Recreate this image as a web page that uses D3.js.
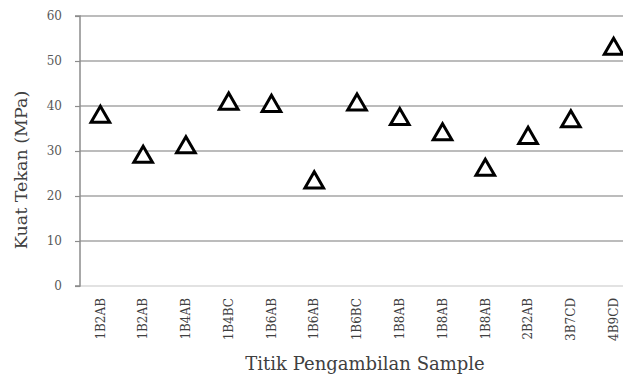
<!DOCTYPE html>
<html><head><meta charset="utf-8">
<script src="https://cdn.jsdelivr.net/npm/d3@7"></script>
<style>body{margin:0;background:#fff}svg{display:block}</style>
</head><body>
<script>
const categories = ["1B2AB","1B2AB","1B4AB","1B4BC","1B6AB","1B6AB","1B6BC","1B8AB","1B8AB","1B8AB","2B2AB","3B7CD","4B9CD"];
const values = [37.8, 28.9, 31.0, 40.7, 40.2, 23.2, 40.5, 37.3, 33.9, 26.0, 33.1, 36.8, 52.9];
const yTicks = [0, 10, 20, 30, 40, 50, 60];

const W = 623, H = 378;
const FONT = "DejaVu Serif";
const svg = d3.select("body").append("svg").attr("width", W).attr("height", H);
const mLeft = 80, mTop = 16, mBottom = 286, mRight = 635;

const x = d3.scaleBand().domain(d3.range(categories.length)).range([mLeft - 1, mRight]);
const y = d3.scaleLinear().domain([0, 60]).range([mBottom, mTop]);

// gridlines
svg.append("g").selectAll("line").data(yTicks.filter(d => d > 0)).join("line")
  .attr("x1", mLeft).attr("x2", W).attr("y1", d => y(d)).attr("y2", d => y(d))
  .attr("stroke", "#a6a6a6").attr("stroke-width", 1.5);
// bottom baseline
svg.append("line").attr("x1", mLeft).attr("x2", W).attr("y1", y(0)).attr("y2", y(0))
  .attr("stroke", "#d9d9d9").attr("stroke-width", 1.5);

// y axis
const yAxis = d3.axisLeft(y).tickValues(yTicks).tickSize(5).tickPadding(13);
const gy = svg.append("g").attr("transform", `translate(${mLeft},0)`).call(yAxis)
  .attr("font-family", FONT).attr("font-size", 12);
gy.select(".domain").attr("stroke", "#8c8c8c").attr("stroke-width", 1.5).attr("d", `M-5,${mTop}H0V${mBottom}H-5`);
gy.selectAll(".tick line").attr("stroke", "#8c8c8c").attr("stroke-width", 1.2);
gy.selectAll("text").attr("fill", "#595959");

// x labels
const xAxis = d3.axisBottom(x).tickFormat(i => categories[i]).tickSize(0).tickPadding(0);
const gx = svg.append("g").attr("transform", `translate(0,${mBottom})`).call(xAxis)
  .attr("font-family", FONT).attr("font-size", 12);
gx.select(".domain").remove();
gx.selectAll("text").attr("fill", "#404040")
  .attr("transform", "rotate(-90)").attr("text-anchor", "end").attr("dy", "0.35em").attr("x", -12).attr("y", 0);

// markers
const sym = d3.symbol().type(d3.symbolTriangle).size(150);
svg.append("g").selectAll("path").data(values).join("path")
  .attr("d", sym)
  .attr("transform", (d, i) => `translate(${x(i) + x.bandwidth() / 2},${y(d) + 1})`)
  .attr("fill", "#fff").attr("stroke", "#000").attr("stroke-width", 3).attr("stroke-linejoin", "miter");

// titles
svg.append("text").attr("transform", `translate(27,170) rotate(-90)`)
  .attr("text-anchor", "middle").attr("font-family", FONT).attr("font-size", 17.5)
  .attr("fill", "#404040").text("Kuat Tekan (MPa)");
svg.append("text").attr("x", 365).attr("y", 370)
  .attr("text-anchor", "middle").attr("font-family", FONT).attr("font-size", 18)
  .attr("fill", "#404040").text("Titik Pengambilan Sample");
</script>
</body></html>
